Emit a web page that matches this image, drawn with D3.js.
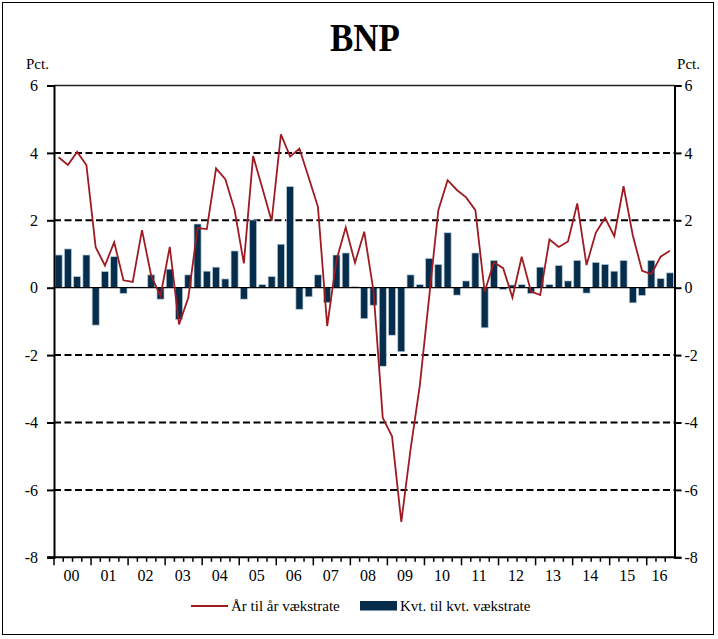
<!DOCTYPE html>
<html>
<head>
<meta charset="utf-8">
<script src="https://cdnjs.cloudflare.com/ajax/libs/d3/7.8.5/d3.min.js"></script>
<style>
  body { margin: 0; background: #fff; }
  svg text { font-family: "Liberation Serif", "DejaVu Serif", serif; fill: #000; }
</style>
</head>
<body>
<div id="chart"></div>
<script>
// BNP - år til år og kvt. til kvt. vækstrate, 2000K1-2016K3

const years = ['00','01','02','03','04','05','06','07','08','09','10','11','12','13','14','15','16'];
const quartersPerYear = [4,4,4,4,4,4,4,4,4,4,4,4,4,4,4,4,3];

// kvt. til kvt. (søjler)
const qoq = [
  0.97, 1.15, 0.33, 0.97,  -1.11, 0.48, 0.92, -0.17,   0.02, 0.02, 0.38, -0.34,
  0.55, -0.94, 0.38, 1.89,  0.49, 0.61, 0.26, 1.09,   -0.34, 2.01, 0.09, 0.33,
  1.29, 3.00, -0.64, -0.27,  0.38, -0.44, 0.97, 1.03,   0.03, -0.92, -0.52, -2.33,
  -1.41, -1.90, 0.38, 0.09,  0.87, 0.69, 1.63, -0.22,   0.20, 1.03, -1.19, 0.81,
  -0.05, 0.08, 0.09, -0.17,  0.61, 0.09, 0.66, 0.20,   0.81, -0.16, 0.75, 0.69,
  0.49, 0.81, -0.45, -0.23,  0.81, 0.27, 0.44
];

// år til år (linje)
const yoy = [
  3.87, 3.64, 4.03, 3.64,  1.20, 0.66, 1.35, 0.22,   0.17, 1.71, 0.35, -0.24,
  1.21, -1.09, -0.30, 1.77,  1.74, 3.54, 3.22, 2.31,   0.72, 3.91, 2.95, 1.98,
  4.55, 3.89, 4.13, 3.27,  2.40, -1.14, 0.82, 1.79,   0.74, 1.66, -0.10, -3.86,
  -4.41, -6.95, -4.80, -2.90,  -0.30, 2.30, 3.19, 2.90,   2.68, 2.30, -0.12, 0.75,
  0.58, -0.29, 0.92, -0.11,  -0.22, 1.43, 1.21, 1.37,   2.50, 0.67, 1.63, 2.07,
  1.53, 3.01, 1.55, 0.50,  0.40, 0.92, 1.10
];

const yTicks = [6, 4, 2, 0, -2, -4, -6, -8];
const gridValues = [4, 2, -2, -4, -6];

const lineColor = '#9e1b22';
const barColor = '#062d4b';

// kvartaler som kategorier
const quarters = [];
years.forEach((yr, i) => {
  for (let k = 1; k <= quartersPerYear[i]; k++) quarters.push(yr + 'K' + k);
});

const W = 718, H = 639;
const plotLeft = 54, plotRight = 674.5, plotTop = 85.5, plotBottom = 557.3;

const svg = d3.select('#chart').append('svg')
  .attr('width', W).attr('height', H);

// ydre ramme
svg.append('rect')
  .attr('x', 2.5).attr('y', 2.5)
  .attr('width', 711).attr('height', 632)
  .attr('fill', 'none').attr('stroke', '#000').attr('stroke-width', 1);

const pad = 0.24;
const x = d3.scaleBand()
  .domain(quarters)
  .range([plotLeft, plotRight])
  .paddingInner(pad)
  .paddingOuter(pad / 2);
const step = x.step();
const cx = q => x(q) + x.bandwidth() / 2;
const qStart = q => x(q) - step * pad / 2;

const y = d3.scaleLinear().domain([-8, 6]).range([plotBottom, plotTop]);

// titel
svg.append('text')
  .attr('x', 365).attr('y', 51)
  .attr('text-anchor', 'middle')
  .attr('font-size', 40).attr('font-weight', 'bold')
  .attr('textLength', 70).attr('lengthAdjust', 'spacingAndGlyphs')
  .text('BNP');

svg.append('text').attr('x', 26).attr('y', 69).attr('font-size', 15).text('Pct.');
svg.append('text').attr('x', 700).attr('y', 69).attr('font-size', 15)
  .attr('text-anchor', 'end').text('Pct.');

// stiplede hjælpelinjer
svg.append('g').selectAll('line')
  .data(gridValues)
  .join('line')
  .attr('x1', plotLeft).attr('x2', plotRight)
  .attr('y1', d => y(d)).attr('y2', d => y(d))
  .attr('stroke', '#000').attr('stroke-width', 2)
  .attr('stroke-dasharray', '7,3.5');

// toplinje
svg.append('line')
  .attr('x1', plotLeft).attr('x2', plotRight)
  .attr('y1', plotTop).attr('y2', plotTop)
  .attr('stroke', '#222').attr('stroke-width', 1.5);

// søjler
svg.append('g').selectAll('rect')
  .data(qoq)
  .join('rect')
  .attr('x', (d, i) => x(quarters[i]))
  .attr('width', x.bandwidth())
  .attr('y', d => y(Math.max(0, d)))
  .attr('height', d => Math.abs(y(d) - y(0)))
  .attr('fill', barColor)
  .attr('stroke', '#b9cbd8')
  .attr('stroke-width', 0.7);

// nul-linje
svg.append('line')
  .attr('x1', plotLeft).attr('x2', plotRight)
  .attr('y1', y(0)).attr('y2', y(0))
  .attr('stroke', '#000').attr('stroke-width', 1.3);

// linje
const line = d3.line()
  .x((d, i) => cx(quarters[i]))
  .y(d => y(d));

svg.append('path')
  .datum(yoy)
  .attr('d', line)
  .attr('fill', 'none')
  .attr('stroke', lineColor)
  .attr('stroke-width', 1.8)
  .attr('stroke-linejoin', 'miter');

// y-akser
const fmt = d => String(d);
const yLeft = svg.append('g')
  .attr('transform', `translate(${plotLeft},0)`)
  .call(d3.axisLeft(y).tickValues(yTicks).tickSize(7).tickPadding(9).tickFormat(fmt));
const yRight = svg.append('g')
  .attr('transform', `translate(${plotRight},0)`)
  .call(d3.axisRight(y).tickValues(yTicks).tickSize(7).tickPadding(3).tickFormat(fmt));
[yLeft, yRight].forEach(g => {
  g.select('.domain').attr('stroke', '#000').attr('stroke-width', 2);
  g.selectAll('.tick line').attr('stroke', '#000').attr('stroke-width', 2);
  g.selectAll('.tick text')
    .attr('font-family', '"Liberation Serif", serif')
    .attr('font-size', 16).attr('fill', '#000');
});

// x-akse
const xAxis = svg.append('g');
xAxis.append('line')
  .attr('x1', plotLeft - 7).attr('x2', plotRight)
  .attr('y1', plotBottom).attr('y2', plotBottom)
  .attr('stroke', '#000').attr('stroke-width', 2);

xAxis.selectAll('.minor')
  .data(quarters)
  .join('line')
  .attr('class', 'minor')
  .attr('x1', q => qStart(q)).attr('x2', q => qStart(q))
  .attr('y1', plotBottom)
  .attr('y2', q => q.endsWith('K1') ? plotBottom + 8 : plotBottom + 4.5)
  .attr('stroke', '#000').attr('stroke-width', 1.5);

let idx = 0;
const yearPos = years.map((yr, i) => {
  const first = quarters[idx];
  const last = quarters[idx + quartersPerYear[i] - 1];
  idx += quartersPerYear[i];
  return { yr, c: (qStart(first) + qStart(last) + step) / 2 };
});

xAxis.selectAll('.yl')
  .data(yearPos)
  .join('text')
  .attr('class', 'yl')
  .attr('x', d => d.c - 1)
  .attr('y', 581)
  .attr('text-anchor', 'middle')
  .attr('font-size', 16)
  .text(d => d.yr);

// legende
const leg = svg.append('g');
leg.append('line')
  .attr('x1', 191).attr('x2', 228)
  .attr('y1', 606).attr('y2', 606)
  .attr('stroke', lineColor).attr('stroke-width', 1.8);
leg.append('text').attr('x', 231).attr('y', 611).attr('font-size', 15)
  .text('År til år vækstrate');
leg.append('rect')
  .attr('x', 360).attr('y', 601).attr('width', 37).attr('height', 9.5)
  .attr('fill', barColor);
leg.append('text').attr('x', 400).attr('y', 611).attr('font-size', 15)
  .text('Kvt. til kvt. vækstrate');
</script>
</body>
</html>
